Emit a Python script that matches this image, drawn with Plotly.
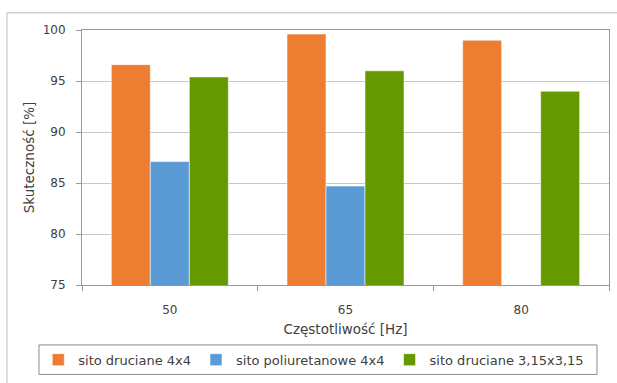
import plotly.graph_objects as go

# Data
categories = ["50", "65", "80"]
series_names = ["sito druciane 4x4", "sito poliuretanowe 4x4", "sito druciane 3,15x3,15"]
druciane_4x4 = [96.6, 99.6, 99.0]
poliuretanowe_4x4 = [87.1, 84.7, None]
druciane_315 = [95.4, 96.0, 94.0]
y_ticks = [75, 80, 85, 90, 95, 100]

colors = ["#ED7D31", "#5B9BD5", "#669900"]
font_family = "DejaVu Sans, sans-serif"
text_color = "#404040"
axis_color = "#999999"

fig = go.Figure()
for name, vals, col in zip(series_names, [druciane_4x4, poliuretanowe_4x4, druciane_315], colors):
    fig.add_trace(go.Bar(
        x=categories, y=vals, name=name,
        marker=dict(color=col, line=dict(color="rgba(255,255,255,0.55)", width=1)),
    ))

# outer chart frame and legend box
fig.add_shape(type="rect", xref="paper", yref="paper",
              x0=-0.1423, x1=1.05, y0=-0.6, y1=1.0674,
              line=dict(color="#BDBDBD", width=1), fillcolor="rgba(0,0,0,0)", layer="below")
fig.add_shape(type="rect", xref="paper", yref="paper",
              x0=-0.0816, x1=0.9772, y0=-0.3507, y1=-0.2351,
              line=dict(color="#8C8C8C", width=1), fillcolor="rgba(0,0,0,0)")

fig.update_layout(
    width=617, height=383,
    margin=dict(l=82, r=8, t=29.5, b=94),
    paper_bgcolor="white", plot_bgcolor="white",
    barmode="group", bargap=0.334, bargroupgap=0,
    font=dict(family=font_family, size=12, color=text_color),
    showlegend=True,
    legend=dict(orientation="h", x=-0.083, xanchor="left", y=-0.293, yanchor="middle",
                font=dict(size=13, color=text_color), bgcolor="rgba(0,0,0,0)",
                traceorder="normal"),
)
fig.update_yaxes(
    range=[75, 100], tickvals=y_ticks, showgrid=True, gridcolor="#C8C8C8", gridwidth=1,
    showline=True, linecolor=axis_color, linewidth=1, mirror=True,
    ticks="outside", ticklen=5, tickcolor=axis_color, ticklabelstandoff=8,
    tickfont=dict(size=12, color=text_color),
    title=dict(text="Skuteczność [%]", font=dict(size=13.5, color=text_color), standoff=4),
    zeroline=False,
)
fig.update_xaxes(
    type="category", showline=True, linecolor=axis_color, linewidth=1, mirror=True,
    ticks="outside", ticklen=5, tickcolor=axis_color, tickson="boundaries",
    ticklabelstandoff=14,
    tickfont=dict(size=12, color=text_color),
    title=dict(text="Częstotliwość [Hz]", font=dict(size=13.5, color=text_color), standoff=8),
)

fig.write_html("out.html")
